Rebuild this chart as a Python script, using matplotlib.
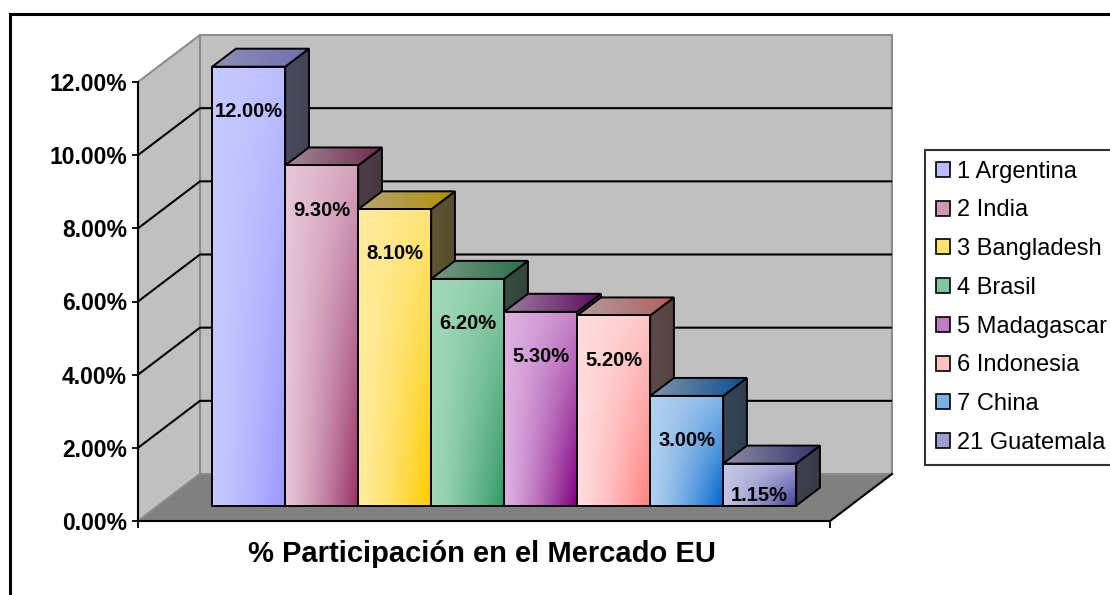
import numpy as np
import matplotlib
matplotlib.use("Agg")
import matplotlib.pyplot as plt
from matplotlib.patches import Polygon, Rectangle, Patch
from matplotlib.colors import to_rgb

plt.rcParams['font.family'] = ['Liberation Sans', 'DejaVu Sans']

# ---------------- data ----------------
countries = ["1 Argentina", "2 India", "3 Bangladesh", "4 Brasil",
             "5 Madagascar", "6 Indonesia", "7 China", "21 Guatemala"]
shares = [12.00, 9.30, 8.10, 6.20, 5.30, 5.20, 3.00, 1.15]
light_colors = ["#C8C8FF", "#E6C4D6", "#FFEB9C", "#A0D8B8",
                "#DDB0E0", "#FFDCDC", "#B0D0F0", "#C4C4E4"]
dark_colors = ["#9999FF", "#993366", "#FFCC00", "#339966",
               "#800080", "#FF8080", "#0066CC", "#404099"]
y_ticks = [0, 2, 4, 6, 8, 10, 12]
title = "% Participación en el Mercado EU"

# ---------------- layout ----------------
W, H = 1110, 595
PX_PER_UNIT = (521 - 82) / 12.0
YTOP = 13.8
fig = plt.figure(figsize=(W / 100, H / 100), dpi=100)
ax = fig.add_axes([138 / W, 1 - 521 / H, 692 / W, YTOP * PX_PER_UNIT / H])

PAD = 0.74
NB = len(shares)
XMAX = NB + 2 * PAD
DX, DY = 0.849, 1.285          # depth offset of the floor (x units, % units)
D0, D1 = 0.326, 0.709          # bar depth span (fraction of floor depth)
ax.set_xlim(0, XMAX)
ax.set_ylim(0, YTOP)
ax.set_autoscale_on(False)


def P(x, v, d):
    return (x + d * DX, v + d * DY)


WALL = "#C0C0C0"
FLOOR = "#808080"
EDGE_GRAY = "#8C8C8C"
YMAX = max(y_ticks)

# back wall
ax.add_patch(Polygon([P(0, 0, 1), P(XMAX, 0, 1), P(XMAX, YMAX, 1), P(0, YMAX, 1)],
                     closed=True, facecolor=WALL, edgecolor=EDGE_GRAY, lw=1.5,
                     zorder=1, clip_on=False))
# side wall
ax.add_patch(Polygon([P(0, 0, 0), P(0, 0, 1), P(0, YMAX, 1), P(0, YMAX, 0)],
                     closed=True, facecolor=WALL, edgecolor=EDGE_GRAY, lw=1.5,
                     zorder=1, clip_on=False))
# floor
ax.add_patch(Polygon([P(0, 0, 0), P(XMAX, 0, 0), P(XMAX, 0, 1), P(0, 0, 1)],
                     closed=True, facecolor=FLOOR, edgecolor=EDGE_GRAY, lw=1.2,
                     zorder=1.2, clip_on=False))
xr = [P(XMAX, 0, 0)[0], P(XMAX, 0, 1)[0]]
yr = [P(XMAX, 0, 0)[1], P(XMAX, 0, 1)[1]]
ax.plot(xr, yr, color="black", lw=1.5, zorder=1.3, clip_on=False)

# gridlines on side wall and back wall
for g in y_ticks[1:-1]:
    pts = [P(0, g, 0), P(0, g, 1), P(XMAX, g, 1)]
    ax.plot([p[0] for p in pts], [p[1] for p in pts], color="black", lw=1.5,
            zorder=1.5, clip_on=False, solid_capstyle="butt")


def mix(c1, c2, t):
    return c1 * (1 - t) + c2 * t


def grad_face(pts, img, z):
    xs = [p[0] for p in pts]
    ys = [p[1] for p in pts]
    poly = Polygon(pts, closed=True, facecolor="none", edgecolor="black",
                   lw=1.4, zorder=z + 0.05, clip_on=False, joinstyle="miter")
    ax.add_patch(poly)
    im = ax.imshow(img, extent=(min(xs), max(xs), min(ys), max(ys)),
                   origin="upper", aspect="auto", interpolation="bilinear",
                   zorder=z)
    im.set_clip_path(poly)


nx, ny = 48, 64
u = np.linspace(0, 1, nx)[None, :, None]
vv = np.linspace(0, 1, ny)[:, None, None]

for i, v in enumerate(shares):
    lc = np.array(to_rgb(light_colors[i]))
    dc = np.array(to_rgb(dark_colors[i]))
    x0 = PAD + i
    x1 = x0 + 1
    z = 3 + i * 0.3
    # side face
    mid = mix(lc, dc, 0.5)
    side_base = np.clip(mid * 0.25 + 0.12, 0, 1)
    side_img = side_base[None, None, :] * (1.0 - 0.10 * u) * np.ones((ny, 1, 1))
    grad_face([P(x1, 0, D0), P(x1, 0, D1), P(x1, v, D1), P(x1, v, D0)],
              np.clip(side_img, 0, 1), z)
    # top face
    top_img = (mix(lc[None, None, :], dc[None, None, :], u) * 0.66 + 0.04) * np.ones((8, 1, 1))
    grad_face([P(x0, v, D0), P(x1, v, D0), P(x1, v, D1), P(x0, v, D1)],
              np.clip(top_img, 0, 1), z + 0.1)
    # front face
    t = (u ** 1.3) * (0.25 + 0.75 * vv)
    front_img = mix(lc[None, None, :], dc[None, None, :], t)
    grad_face([P(x0, 0, D0), P(x1, 0, D0), P(x1, v, D0), P(x0, v, D0)],
              np.clip(front_img, 0, 1), z + 0.2)
    # value label
    top_front = v + D0 * DY
    ly = max(top_front - 1.22, D0 * DY + 0.27)
    ax.text(x0 + 0.5 + D0 * DX, ly, f"{v:.2f}%", ha="center", va="center",
            fontsize=14.5, fontweight="bold", color="black", zorder=10)

# axes styling
for s in ["top", "right"]:
    ax.spines[s].set_visible(False)
ax.spines["left"].set_linewidth(1.5)
ax.spines["bottom"].set_linewidth(1.5)
ax.spines["left"].set_bounds(0, YMAX)
ax.spines["left"].set_zorder(2)
ax.spines["bottom"].set_zorder(2)
ax.patch.set_visible(False)
ax.set_yticks(y_ticks)
ax.set_yticklabels([f"{t:.2f}%" for t in y_ticks], fontsize=16.5,
                   fontweight="bold")
ax.set_xticks([0, XMAX])
ax.set_xticklabels(["", ""])
ax.tick_params(axis="y", direction="out", length=4, width=1.3, pad=4)
ax.tick_params(axis="x", direction="out", length=5, width=1.3)

# title
fig.text(482 / W, 1 - 554 / H, title, ha="center", va="center",
         fontsize=21, fontweight="bold")

# legend
handles = [Patch(facecolor=mix(np.array(to_rgb(l)), np.array(to_rgb(d)), 0.3),
                 edgecolor="black", lw=1.2)
           for l, d in zip(light_colors, dark_colors)]
leg = fig.legend(handles=handles, labels=countries, loc="upper left",
                 bbox_to_anchor=(925 / W, 1 - 150 / H), frameon=True,
                 fancybox=False, edgecolor="black", fontsize=17,
                 handlelength=0.6, handleheight=0.6, handletextpad=0.3,
                 labelspacing=0.71, borderpad=0.45, borderaxespad=0)
leg.get_frame().set_linewidth(1.5)

# outer chart border (cropped at right and bottom)
fig.add_artist(Rectangle((9.5 / W, -0.2), 1.5, (1 - 14 / H) + 0.2,
                         transform=fig.transFigure, fill=False,
                         edgecolor="black", lw=2.2))

fig.savefig("out.png", dpi=100)
